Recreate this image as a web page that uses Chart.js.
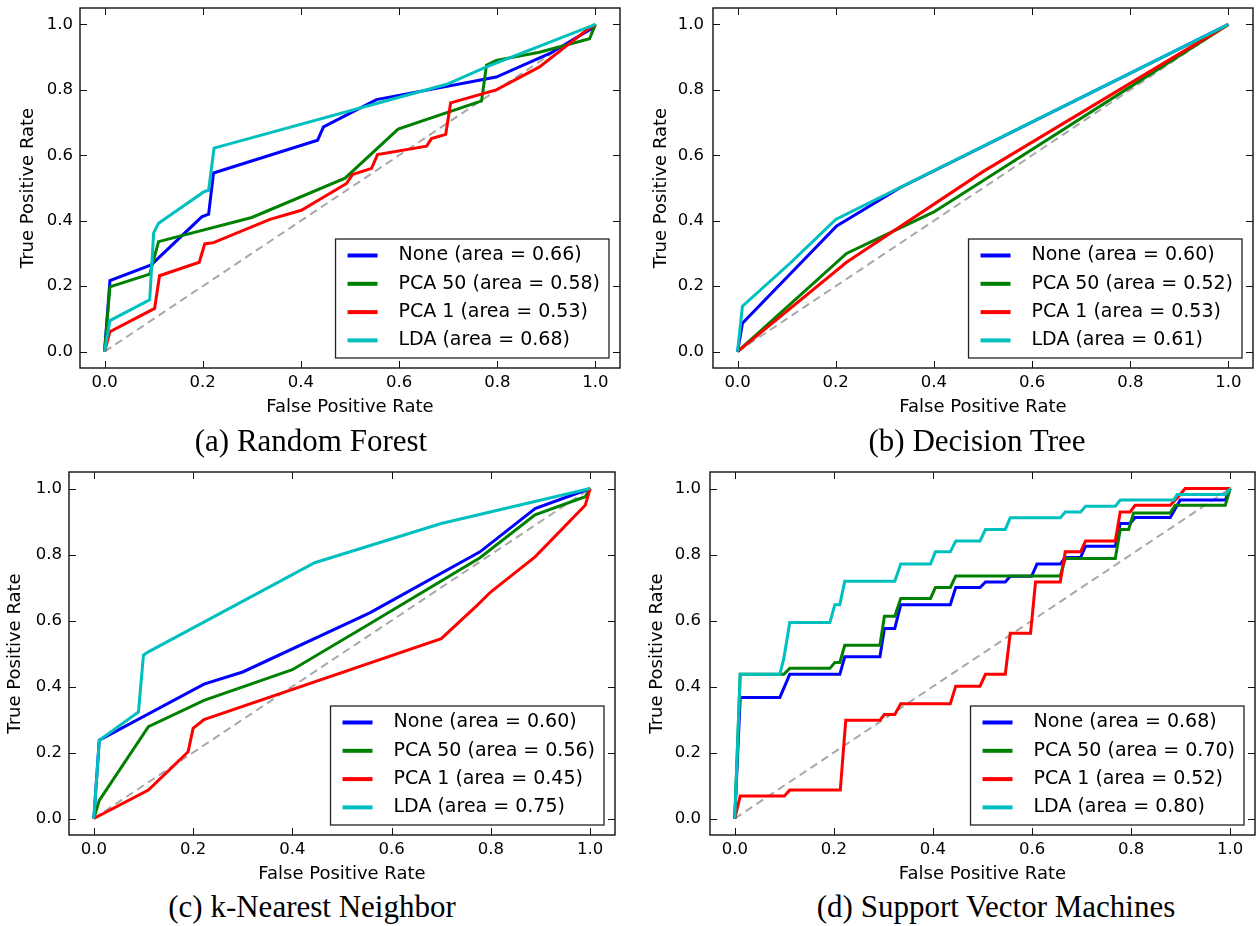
<!DOCTYPE html>
<html>
<head>
<meta charset="utf-8">
<script src="https://cdn.jsdelivr.net/npm/chart.js@4.4.1/dist/chart.umd.min.js"></script>
<style>
  html, body { margin: 0; padding: 0; background: #fff; }
  #page { position: relative; width: 1256px; height: 926px; overflow: hidden; background: #fff; }
  #page canvas { position: absolute; }
  .caption {
    position: absolute; width: 500px; text-align: center; white-space: nowrap;
    font-family: 'Liberation Serif', 'Times New Roman', serif;
    font-size: 31px; line-height: 31px; color: #000;
  }
</style>
</head>
<body>
<div id="page">
  <canvas id="rf" width="628" height="425" style="left:0px;top:0px"></canvas>
  <canvas id="dt" width="628" height="425" style="left:628px;top:0px"></canvas>
  <canvas id="knn" width="628" height="425" style="left:0px;top:464px"></canvas>
  <canvas id="svm" width="628" height="425" style="left:628px;top:464px"></canvas>
  <div class="caption" id="cap0" style="left:61px;top:425px"></div>
  <div class="caption" id="cap1" style="left:727px;top:425px"></div>
  <div class="caption" id="cap2" style="left:62px;top:891px"></div>
  <div class="caption" id="cap3" style="left:746px;top:891px"></div>
</div>
<script>
// ---- data ----
const tickValues = [0.0, 0.2, 0.4, 0.6, 0.8, 1.0];
const seriesNames = ['None', 'PCA 50', 'PCA 1', 'LDA'];
const captions = ['(a) Random Forest', '(b) Decision Tree', '(c) k-Nearest Neighbor', '(d) Support Vector Machines'];
const chanceLine = [[0, 0], [1, 1]];

// (a) Random Forest
const rfAreas = [0.66, 0.58, 0.53, 0.68];
const rfNone = [[0,0],[0.011,0.217],[0.095,0.265],[0.198,0.412],[0.212,0.42],[0.222,0.546],[0.434,0.646],[0.446,0.687],[0.554,0.77],[0.798,0.839],[0.907,0.911],[0.99,0.985],[1,1]];
const rfPca50 = [[0,0],[0.011,0.198],[0.092,0.237],[0.11,0.336],[0.30,0.41],[0.49,0.53],[0.598,0.68],[0.768,0.766],[0.778,0.875],[0.798,0.89],[0.886,0.915],[0.988,0.956],[1,1]];
const rfPca1 = [[0,0],[0.011,0.061],[0.102,0.132],[0.112,0.232],[0.193,0.273],[0.204,0.329],[0.222,0.333],[0.337,0.404],[0.401,0.432],[0.493,0.514],[0.505,0.541],[0.544,0.56],[0.556,0.602],[0.656,0.628],[0.666,0.651],[0.695,0.664],[0.705,0.76],[0.798,0.80],[0.886,0.87],[0.98,0.98],[1,1]];
const rfLda = [[0,0],[0.011,0.095],[0.092,0.158],[0.10,0.363],[0.11,0.392],[0.202,0.488],[0.212,0.493],[0.223,0.622],[0.697,0.817],[0.778,0.87],[1,1]];

// (b) Decision Tree
const dtAreas = [0.60, 0.52, 0.53, 0.61];
const dtNone = [[0,0],[0.01,0.087],[0.202,0.384],[0.33,0.50],[1,1]];
const dtPca50 = [[0,0],[0.222,0.30],[0.40,0.427],[1,1]];
const dtPca1 = [[0,0],[0.222,0.273],[0.5,0.55],[1,1]];
const dtLda = [[0,0],[0.01,0.139],[0.107,0.27],[0.2,0.404],[1,1]];

// (c) k-Nearest Neighbor
const knnAreas = [0.60, 0.56, 0.45, 0.75];
const knnNone = [[0,0],[0.011,0.237],[0.222,0.407],[0.30,0.444],[0.556,0.623],[0.778,0.808],[0.889,0.939],[1,1]];
const knnPca50 = [[0,0],[0.011,0.055],[0.11,0.278],[0.222,0.358],[0.40,0.451],[0.556,0.59],[0.778,0.79],[0.889,0.92],[0.99,0.975],[1,1]];
const knnPca1 = [[0,0],[0.11,0.086],[0.19,0.202],[0.20,0.273],[0.222,0.30],[0.70,0.545],[0.77,0.643],[0.80,0.687],[0.889,0.793],[0.99,0.949],[1,1]];
const knnLda = [[0,0],[0.011,0.237],[0.09,0.323],[0.10,0.495],[0.11,0.505],[0.445,0.775],[0.70,0.894],[1,1]];

// (d) Support Vector Machines
const svmAreas = [0.68, 0.70, 0.52, 0.80];
const svmNone = [[0,0],[0.011,0.367],[0.091,0.367],[0.111,0.437],[0.212,0.437],[0.222,0.49],[0.293,0.49],[0.302,0.576],[0.323,0.576],[0.335,0.648],[0.435,0.648],[0.446,0.70],[0.495,0.70],[0.506,0.717],[0.546,0.717],[0.556,0.734],[0.599,0.734],[0.61,0.771],[0.657,0.771],[0.667,0.791],[0.698,0.791],[0.708,0.825],[0.768,0.825],[0.778,0.894],[0.798,0.894],[0.808,0.912],[0.879,0.912],[0.899,0.965],[0.99,0.965],[1,1]];
const svmPca50 = [[0,0],[0.011,0.437],[0.099,0.437],[0.111,0.455],[0.192,0.455],[0.202,0.473],[0.212,0.473],[0.222,0.525],[0.293,0.525],[0.302,0.613],[0.323,0.613],[0.335,0.667],[0.395,0.667],[0.405,0.70],[0.435,0.70],[0.446,0.735],[0.657,0.735],[0.667,0.788],[0.768,0.788],[0.778,0.876],[0.795,0.876],[0.805,0.926],[0.879,0.926],[0.889,0.949],[0.99,0.949],[1,1]];
const svmPca1 = [[0,0],[0.011,0.068],[0.10,0.068],[0.111,0.086],[0.213,0.086],[0.224,0.298],[0.293,0.298],[0.302,0.315],[0.323,0.315],[0.335,0.348],[0.435,0.348],[0.446,0.401],[0.495,0.401],[0.506,0.437],[0.546,0.437],[0.556,0.561],[0.597,0.561],[0.607,0.717],[0.657,0.717],[0.667,0.808],[0.698,0.808],[0.708,0.841],[0.768,0.841],[0.778,0.929],[0.798,0.929],[0.808,0.949],[0.879,0.949],[0.889,0.965],[0.899,0.982],[0.909,1],[1,1]];
const svmLda = [[0,0],[0.011,0.437],[0.091,0.437],[0.099,0.485],[0.111,0.594],[0.192,0.594],[0.202,0.648],[0.212,0.648],[0.222,0.719],[0.323,0.719],[0.335,0.771],[0.395,0.771],[0.405,0.808],[0.435,0.808],[0.446,0.841],[0.495,0.841],[0.506,0.876],[0.546,0.876],[0.556,0.911],[0.657,0.911],[0.667,0.929],[0.698,0.929],[0.708,0.946],[0.768,0.946],[0.778,0.965],[0.886,0.965],[0.893,0.982],[0.99,0.982],[1,1]];

// ---- styling ----
const seriesColors = ['#0000ff', '#008000', '#ff0000', '#00bfbf'];
Chart.defaults.font.family = "'DejaVu Sans', Verdana, sans-serif";
Chart.defaults.color = '#000';

const framePlugin = {
    id: 'rocFrame',
    afterDatasetsDraw(chart) {
        const {ctx, chartArea: a, scales: {x, y}} = chart;
        ctx.save();
        ctx.strokeStyle = '#111';
        ctx.lineWidth = 1;
        tickValues.forEach(v => {
            const px = Math.round(x.getPixelForValue(v)) + 0.5;
            const py = Math.round(y.getPixelForValue(v)) + 0.5;
            ctx.beginPath();
            ctx.moveTo(px, a.bottom); ctx.lineTo(px, a.bottom - 7);
            ctx.moveTo(px, a.top); ctx.lineTo(px, a.top + 7);
            ctx.moveTo(a.left, py); ctx.lineTo(a.left + 7, py);
            ctx.moveTo(a.right, py); ctx.lineTo(a.right - 7, py);
            ctx.stroke();
        });
        ctx.lineWidth = 1.4;
        ctx.strokeRect(a.left, a.top, a.right - a.left, a.bottom - a.top);
        ctx.restore();
    }
};

// legend box drawn inside the plot, lower right (like matplotlib loc="lower right")
const legendPlugin = {
    id: 'rocLegend',
    afterDraw(chart) {
        const {ctx, chartArea: a} = chart;
        const items = chart.data.datasets.filter(d => d.label);
        ctx.save();
        ctx.font = "19px 'DejaVu Sans', Verdana, sans-serif";
        const textW = Math.max(...items.map(d => ctx.measureText(d.label).width));
        const w = 12 + 30 + 21 + textW + 9;
        const h = 119;
        const right = a.right - 11;
        const bottom = a.bottom - 10;
        const left = right - w, top = bottom - h;
        ctx.fillStyle = '#fff';
        ctx.fillRect(left, top, w, h);
        ctx.strokeStyle = '#222';
        ctx.lineWidth = 1.3;
        ctx.strokeRect(left, top, w, h);
        items.forEach((d, i) => {
            const cy = top + 16.5 + i * 28.3;
            ctx.strokeStyle = d.borderColor;
            ctx.lineWidth = 4;
            ctx.beginPath();
            ctx.moveTo(left + 12, cy);
            ctx.lineTo(left + 42, cy);
            ctx.stroke();
            ctx.fillStyle = '#000';
            ctx.textBaseline = 'middle';
            ctx.textAlign = 'left';
            ctx.fillText(d.label, left + 63, cy);
        });
        ctx.restore();
    }
};

function toXY(pts) {
    return pts.map(p => ({x: p[0], y: p[1]}));
}

function makeChart(id, series, areas, box) {
    const datasets = [{
        data: toXY(chanceLine),
        borderColor: '#a8a8a8',
        borderWidth: 2,
        borderDash: [8, 5],
        order: 9
    }];
    series.forEach((pts, i) => {
        datasets.push({
            label: seriesNames[i] + ' (area = ' + areas[i].toFixed(2) + ')',
            data: toXY(pts),
            borderColor: seriesColors[i],
            borderWidth: 3,
            order: 4 - i
        });
    });

    const axisTitleFont = {size: 18};
    const tickFont = {size: 16.5};

    return new Chart(document.getElementById(id), {
        type: 'line',
        data: {datasets},
        options: {
            responsive: false,
            animation: false,
            devicePixelRatio: 1,
            layout: {padding: {top: box.top, right: box.right, left: 0, bottom: 0}},
            elements: {
                point: {radius: 0},
                line: {tension: 0, borderJoinStyle: 'miter', borderCapStyle: 'butt'}
            },
            plugins: {
                legend: {display: false},
                tooltip: {enabled: false}
            },
            scales: {
                x: {
                    type: 'linear',
                    min: -0.05,
                    max: 1.05,
                    bounds: 'data',
                    afterBuildTicks: s => { s.ticks = tickValues.map(v => ({value: v})); },
                    afterFit: s => {
                        s.height = box.xAxisH;
                        s.paddingLeft = 0;
                        s.paddingRight = 0;
                    },
                    grid: {display: false, drawTicks: false},
                    border: {display: false},
                    ticks: {
                        padding: 5,
                        font: tickFont,
                        color: '#000',
                        maxRotation: 0,
                        autoSkip: false,
                        callback: v => v.toFixed(1)
                    },
                    title: {
                        display: true,
                        text: 'False Positive Rate',
                        font: axisTitleFont,
                        color: '#000',
                        padding: {top: 0, bottom: box.xTitlePad}
                    }
                },
                y: {
                    type: 'linear',
                    min: -0.05,
                    max: 1.05,
                    bounds: 'data',
                    afterBuildTicks: s => { s.ticks = tickValues.map(v => ({value: v})); },
                    afterFit: s => {
                        s.width = box.yAxisW;
                        s.paddingTop = 0;
                        s.paddingBottom = 0;
                    },
                    grid: {display: false, drawTicks: false},
                    border: {display: false},
                    ticks: {
                        padding: box.yTickPad,
                        font: tickFont,
                        color: '#000',
                        autoSkip: false,
                        callback: v => v.toFixed(1)
                    },
                    title: {
                        display: true,
                        text: 'True Positive Rate',
                        font: axisTitleFont,
                        color: '#000',
                        padding: {top: box.yTitlePad, bottom: 0}
                    }
                }
            }
        },
        plugins: [framePlugin, legendPlugin]
    });
}

makeChart('rf', [rfNone, rfPca50, rfPca1, rfLda], rfAreas,
    {top: 8, right: 8, xAxisH: 57, yAxisW: 80, xTitlePad: 7, yTitlePad: 18, yTickPad: 7});
makeChart('dt', [dtNone, dtPca50, dtPca1, dtLda], dtAreas,
    {top: 8, right: 3, xAxisH: 57, yAxisW: 85, xTitlePad: 7, yTitlePad: 23, yTickPad: 9});
makeChart('knn', [knnNone, knnPca50, knnPca1, knnLda], knnAreas,
    {top: 8, right: 13, xAxisH: 54, yAxisW: 69, xTitlePad: 4, yTitlePad: 5, yTickPad: 7});
makeChart('svm', [svmNone, svmPca50, svmPca1, svmLda], svmAreas,
    {top: 8, right: 1, xAxisH: 54, yAxisW: 82, xTitlePad: 4, yTitlePad: 19, yTickPad: 9});

captions.forEach((c, i) => { document.getElementById('cap' + i).textContent = c; });
</script>
</body>
</html>
